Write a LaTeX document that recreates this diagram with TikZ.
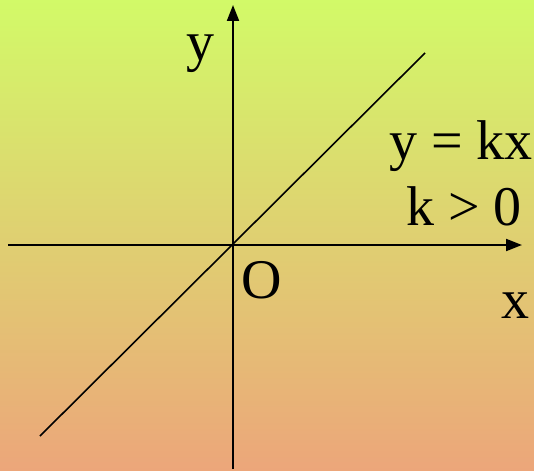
\documentclass[tikz,border=0pt]{standalone}
\usepackage{fontspec}
\setmainfont{Liberation Serif}
\usepackage{tikz}
\usetikzlibrary{arrows.meta, positioning}

\definecolor{bgtop}{RGB}{210,250,104}
\definecolor{bgbot}{RGB}{236,166,122}

\begin{document}
\begin{tikzpicture}[
    x=1pt, y=-1pt,
    axis/.style={-{Triangle[length=16pt,width=12pt]}, line width=2pt},
    graph/.style={line width=1.6pt},
    lbl/.style={font=\fontsize{56}{64}\selectfont, inner sep=0pt, anchor=base}
]

% background
\shade[top color=bgtop, bottom color=bgbot] (0,0) rectangle (534,470);
\useasboundingbox (0,0) rectangle (534,470);

% axes
\coordinate (O) at (233,245);
\coordinate (xs) at (8,245);
\coordinate (xe) at (522,245);
\coordinate (ys) at (233,469);
\coordinate (ye) at (233,5);
\draw[axis] (xs) -- (xe);
\draw[axis] (ys) -- (ye);

% line y = kx
\coordinate (ls) at (40,436);
\coordinate (le) at (425,53);
\draw[graph] (ls) -- (le);

% labels
\node[lbl] (ylab) at (200,61) {y};
\node[lbl] (xlab) at (515,318) {x};
\node[lbl] (olab) at (262,298) {O};
\node[lbl] (eq) at (461,160) {y = kx};
\node[lbl] (kpos) at (464,225) {k > 0};

\end{tikzpicture}
\end{document}
